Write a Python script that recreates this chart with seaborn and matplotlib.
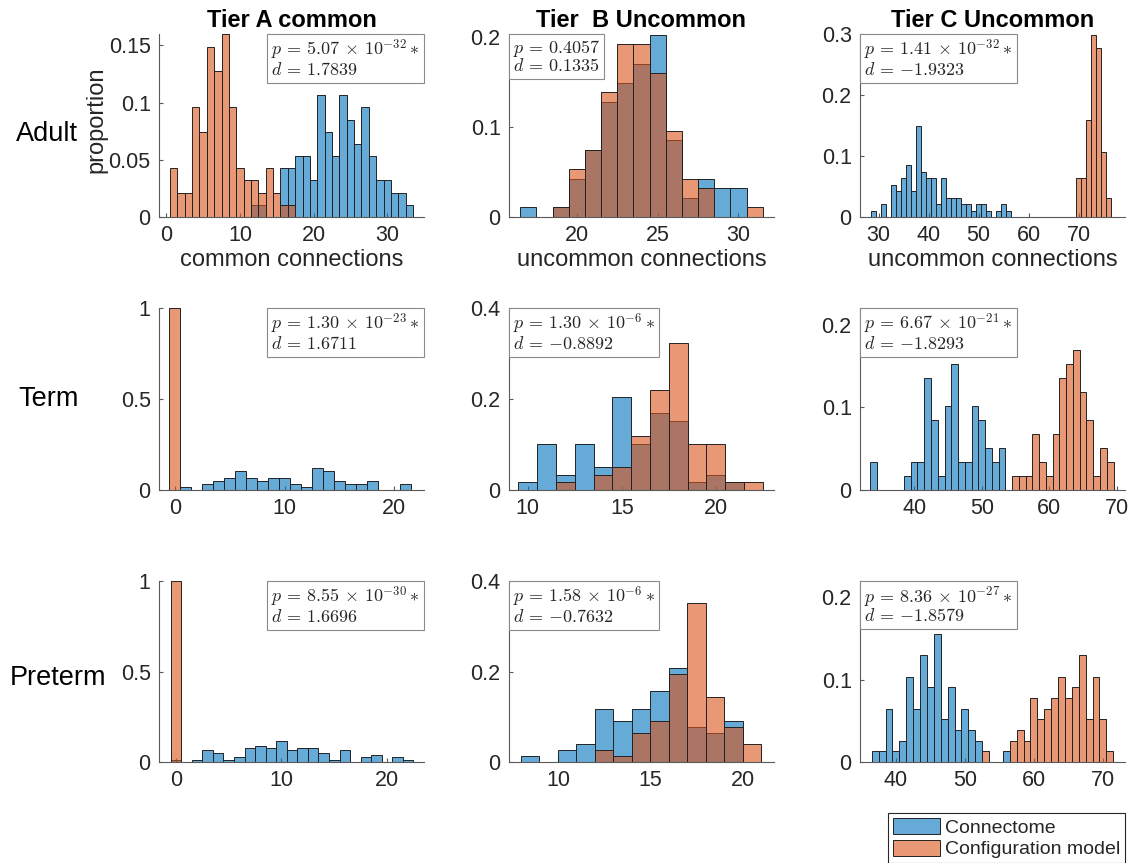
import numpy as np
import matplotlib
matplotlib.use("Agg")
import matplotlib.pyplot as plt
import seaborn as sns
from matplotlib.patches import Patch
from matplotlib.offsetbox import AnchoredText
from matplotlib.ticker import FuncFormatter

# ---------------------------------------------------------------------------
# Histogram counts per bin (bins of width 1); the first entry sits at *_FIRST
# ---------------------------------------------------------------------------
# Adult
ADULT_A_CONN_FIRST = 12
ADULT_A_CONN = [1, 1, 0, 0, 4, 4, 5, 5, 3, 10, 7, 5, 10, 8, 6, 9, 5, 3, 3, 2, 2, 1]
ADULT_A_CONF_FIRST = 1
ADULT_A_CONF = [4, 2, 2, 9, 7, 14, 12, 15, 9, 4, 3, 3, 2, 4, 2, 1, 1]

ADULT_B_CONN_FIRST = 17
ADULT_B_CONN = [1, 0, 1, 4, 7, 12, 14, 16, 19, 8, 2, 4, 3, 3]
ADULT_B_CONF_FIRST = 19
ADULT_B_CONF = [1, 5, 7, 13, 18, 18, 15, 9, 4, 3, 0, 0, 1]

ADULT_C_CONN_FIRST = 29
ADULT_C_CONN = [1, 0, 2, 0, 5, 4, 6, 8, 4, 14, 7, 6, 6, 2, 6, 3, 3, 3, 2, 2,
                1, 2, 2, 1, 0, 1, 2, 1]
ADULT_C_CONF_FIRST = 70
ADULT_C_CONF = [6, 6, 15, 28, 26, 10, 3]

# Term
TERM_A_CONN_FIRST = 1
TERM_A_CONN = [1, 0, 2, 3, 4, 6, 4, 3, 4, 4, 2, 1, 7, 6, 3, 2, 2, 3, 0, 0, 2]
TERM_A_CONF_FIRST = 0
TERM_A_CONF = [59]

TERM_B_CONN_FIRST = 10
TERM_B_CONN = [1, 6, 2, 6, 3, 12, 6, 10, 9, 1, 2, 1]
TERM_B_CONF_FIRST = 12
TERM_B_CONF = [1, 0, 2, 3, 7, 13, 19, 6, 6, 1, 1]

TERM_C_CONN_FIRST = 34
TERM_C_CONN = [2, 0, 0, 0, 0, 1, 2, 2, 8, 5, 1, 6, 9, 2, 2, 6, 5, 3, 2, 3]
TERM_C_CONF_FIRST = 55
TERM_C_CONF = [1, 1, 1, 4, 2, 1, 4, 8, 9, 10, 7, 5, 1, 3, 2]

# Preterm
PRETERM_A_CONN_FIRST = 0
PRETERM_A_CONN = [1, 0, 1, 5, 4, 1, 2, 6, 7, 6, 9, 5, 6, 6, 4, 1, 5, 0, 2, 3, 0, 2, 1]
PRETERM_A_CONF_FIRST = 0
PRETERM_A_CONF = [77]

PRETERM_B_CONN_FIRST = 8.5
PRETERM_B_CONN = [1, 0, 2, 3, 9, 7, 9, 12, 16, 6, 5, 7]
PRETERM_B_CONF_FIRST = 12.5
PRETERM_B_CONF = [2, 1, 5, 7, 15, 27, 11, 6, 3]

PRETERM_C_CONN_FIRST = 37
PRETERM_C_CONN = [1, 1, 5, 1, 2, 8, 5, 10, 7, 12, 4, 7, 3, 5, 3, 2, 0, 0, 0, 1]
PRETERM_C_CONF_FIRST = 53
PRETERM_C_CONF = [1, 0, 0, 0, 2, 3, 2, 6, 4, 5, 6, 8, 6, 7, 10, 4, 8, 4, 1]

# Test statistics shown in each panel
P_TEXT = [
    [r"5.07 \,\times\, 10^{-32}\ast", r"0.4057", r"1.41 \,\times\, 10^{-32}\ast"],
    [r"1.30 \,\times\, 10^{-23}\ast", r"1.30 \,\times\, 10^{-6}\ast", r"6.67 \,\times\, 10^{-21}\ast"],
    [r"8.55 \,\times\, 10^{-30}\ast", r"1.58 \,\times\, 10^{-6}\ast", r"8.36 \,\times\, 10^{-27}\ast"],
]
D_TEXT = [
    ["1.7839", "0.1335", "-1.9323"],
    ["1.6711", "-0.8892", "-1.8293"],
    ["1.6696", "-0.7632", "-1.8579"],
]

ROW_NAMES = ["Adult", "Term", "Preterm"]
COL_TITLES = ["Tier A common", "Tier  B Uncommon", "Tier C Uncommon"]
X_LABELS = ["common connections", "uncommon connections", "uncommon connections"]
LEGEND_LABELS = ["Connectome", "Configuration model"]

# ---------------------------------------------------------------------------
sns.set_theme(style="ticks")
plt.rcParams["font.family"] = ["Liberation Sans", "DejaVu Sans"]
plt.rcParams["mathtext.fontset"] = "cm"

BLUE = (0.0, 0.447, 0.741)
ORANGE = (0.85, 0.325, 0.098)
EDGE = "#222222"
AXIS = "#5a5a5a"
TEXT = "#262626"

W, H = 1132, 863
fig = plt.figure(figsize=(W / 100, H / 100), dpi=100)
fig.patch.set_facecolor("white")

col_left = [159, 509, 860]
ax_w = 265
row_top = [34, 308, 581]
row_bot = [217, 490, 762]

panels = [
    [(ADULT_A_CONN_FIRST, ADULT_A_CONN, ADULT_A_CONF_FIRST, ADULT_A_CONF),
     (ADULT_B_CONN_FIRST, ADULT_B_CONN, ADULT_B_CONF_FIRST, ADULT_B_CONF),
     (ADULT_C_CONN_FIRST, ADULT_C_CONN, ADULT_C_CONF_FIRST, ADULT_C_CONF)],
    [(TERM_A_CONN_FIRST, TERM_A_CONN, TERM_A_CONF_FIRST, TERM_A_CONF),
     (TERM_B_CONN_FIRST, TERM_B_CONN, TERM_B_CONF_FIRST, TERM_B_CONF),
     (TERM_C_CONN_FIRST, TERM_C_CONN, TERM_C_CONF_FIRST, TERM_C_CONF)],
    [(PRETERM_A_CONN_FIRST, PRETERM_A_CONN, PRETERM_A_CONF_FIRST, PRETERM_A_CONF),
     (PRETERM_B_CONN_FIRST, PRETERM_B_CONN, PRETERM_B_CONF_FIRST, PRETERM_B_CONF),
     (PRETERM_C_CONN_FIRST, PRETERM_C_CONN, PRETERM_C_CONF_FIRST, PRETERM_C_CONF)],
]

xlims = [
    [(-1, 35), (15.8, 32.2), (26.3, 79.3)],
    [(-1.45, 22.7), (9, 23.1), (32, 71.2)],
    [(-1.6, 23.5), (7.35, 21.7), (34.8, 73.2)],
]
ylims = [
    [0.16, 0.203, 0.30],
    [1.0, 0.4, 0.22],
    [1.0, 0.4, 0.22],
]
xticks = [
    [[0, 10, 20, 30], [20, 25, 30], [30, 40, 50, 60, 70]],
    [[0, 10, 20], [10, 15, 20], [40, 50, 60, 70]],
    [[0, 10, 20], [10, 15, 20], [40, 50, 60, 70]],
]
yticks = [
    [[0, 0.05, 0.1, 0.15], [0, 0.1, 0.2], [0, 0.1, 0.2, 0.3]],
    [[0, 0.5, 1], [0, 0.2, 0.4], [0, 0.1, 0.2]],
    [[0, 0.5, 1], [0, 0.2, 0.4], [0, 0.1, 0.2]],
]
box_loc = [
    ["upper right", "upper left", "upper left"],
    ["upper right", "upper left", "upper left"],
    ["upper right", "upper left", "upper left"],
]

fmt = FuncFormatter(lambda v, p: f"{v:g}")

for r in range(3):
    for c in range(3):
        left = col_left[c] / W
        bottom = 1 - row_bot[r] / H
        height = (row_bot[r] - row_top[r]) / H
        ax = fig.add_axes([left, bottom, ax_w / W, height])

        conn_first, conn, conf_first, conf = panels[r][c]
        for first, counts, color in ((conn_first, conn, BLUE),
                                     (conf_first, conf, ORANGE)):
            vals = first + np.arange(len(counts))
            cnt = np.asarray(counts, dtype=float)
            keep = cnt > 0
            sns.histplot(x=vals[keep], weights=cnt[keep], discrete=True,
                         stat="probability", color=color, alpha=0.6,
                         edgecolor=EDGE, linewidth=0.7, ax=ax)

        ax.set_xlim(*xlims[r][c])
        ax.set_ylim(0, ylims[r][c])
        ax.set_xticks(xticks[r][c])
        ax.set_yticks(yticks[r][c])
        ax.yaxis.set_major_formatter(fmt)
        ax.xaxis.set_major_formatter(fmt)
        sns.despine(ax=ax)
        for s in ("left", "bottom"):
            ax.spines[s].set_color(AXIS)
            ax.spines[s].set_linewidth(0.8)
        ax.tick_params(direction="in", length=3, width=0.8, color=AXIS,
                       labelsize=15.5, labelcolor=TEXT, pad=6)
        ax.set_facecolor("white")

        ax.set_ylabel("")
        if r == 0:
            ax.set_xlabel(X_LABELS[c], fontsize=17, color=TEXT, labelpad=2)
            ax.set_title(COL_TITLES[c], fontsize=17, fontweight="bold",
                         color="black", pad=5)
        else:
            ax.set_xlabel("")
        if r == 0 and c == 0:
            ax.set_ylabel("proportion", fontsize=17, color=TEXT)
            ax.yaxis.set_label_coords(-0.195, 0.53)

        label = "$p \\,=\\, %s$\n$d \\,=\\, {%s}$" % (P_TEXT[r][c], D_TEXT[r][c])
        at = AnchoredText(label, loc=box_loc[r][c], frameon=True, borderpad=0,
                          pad=0.22, prop=dict(size=13, color=TEXT, linespacing=0.95))
        at.patch.set_boxstyle("square,pad=0")
        at.patch.set_edgecolor("#8a8a8a")
        at.patch.set_linewidth(0.8)
        at.set_zorder(5)
        ax.add_artist(at)

# Row names on the left
row_label_pos = [(47, 141), (49, 406), (58, 685)]
for name, (x, y) in zip(ROW_NAMES, row_label_pos):
    fig.text(x / W, 1 - y / H, name, fontsize=19.5, color="black",
             ha="center", va="baseline")

# Shared legend in the lower right corner
handles = [
    Patch(facecolor=BLUE + (0.6,), edgecolor=EDGE, linewidth=0.7, label=LEGEND_LABELS[0]),
    Patch(facecolor=ORANGE + (0.6,), edgecolor=EDGE, linewidth=0.7, label=LEGEND_LABELS[1]),
]
leg = fig.legend(handles=handles, loc="upper left",
                 bbox_to_anchor=(888 / W, 1 - 813 / H), bbox_transform=fig.transFigure,
                 fontsize=14, frameon=True, fancybox=False, framealpha=1,
                 edgecolor="#262626", handlelength=2.4, handleheight=0.9,
                 handletextpad=0.3, labelspacing=0.15, borderpad=0.25,
                 borderaxespad=0)
leg.get_frame().set_linewidth(0.8)

fig.savefig("out.png", dpi=100, facecolor="white")
